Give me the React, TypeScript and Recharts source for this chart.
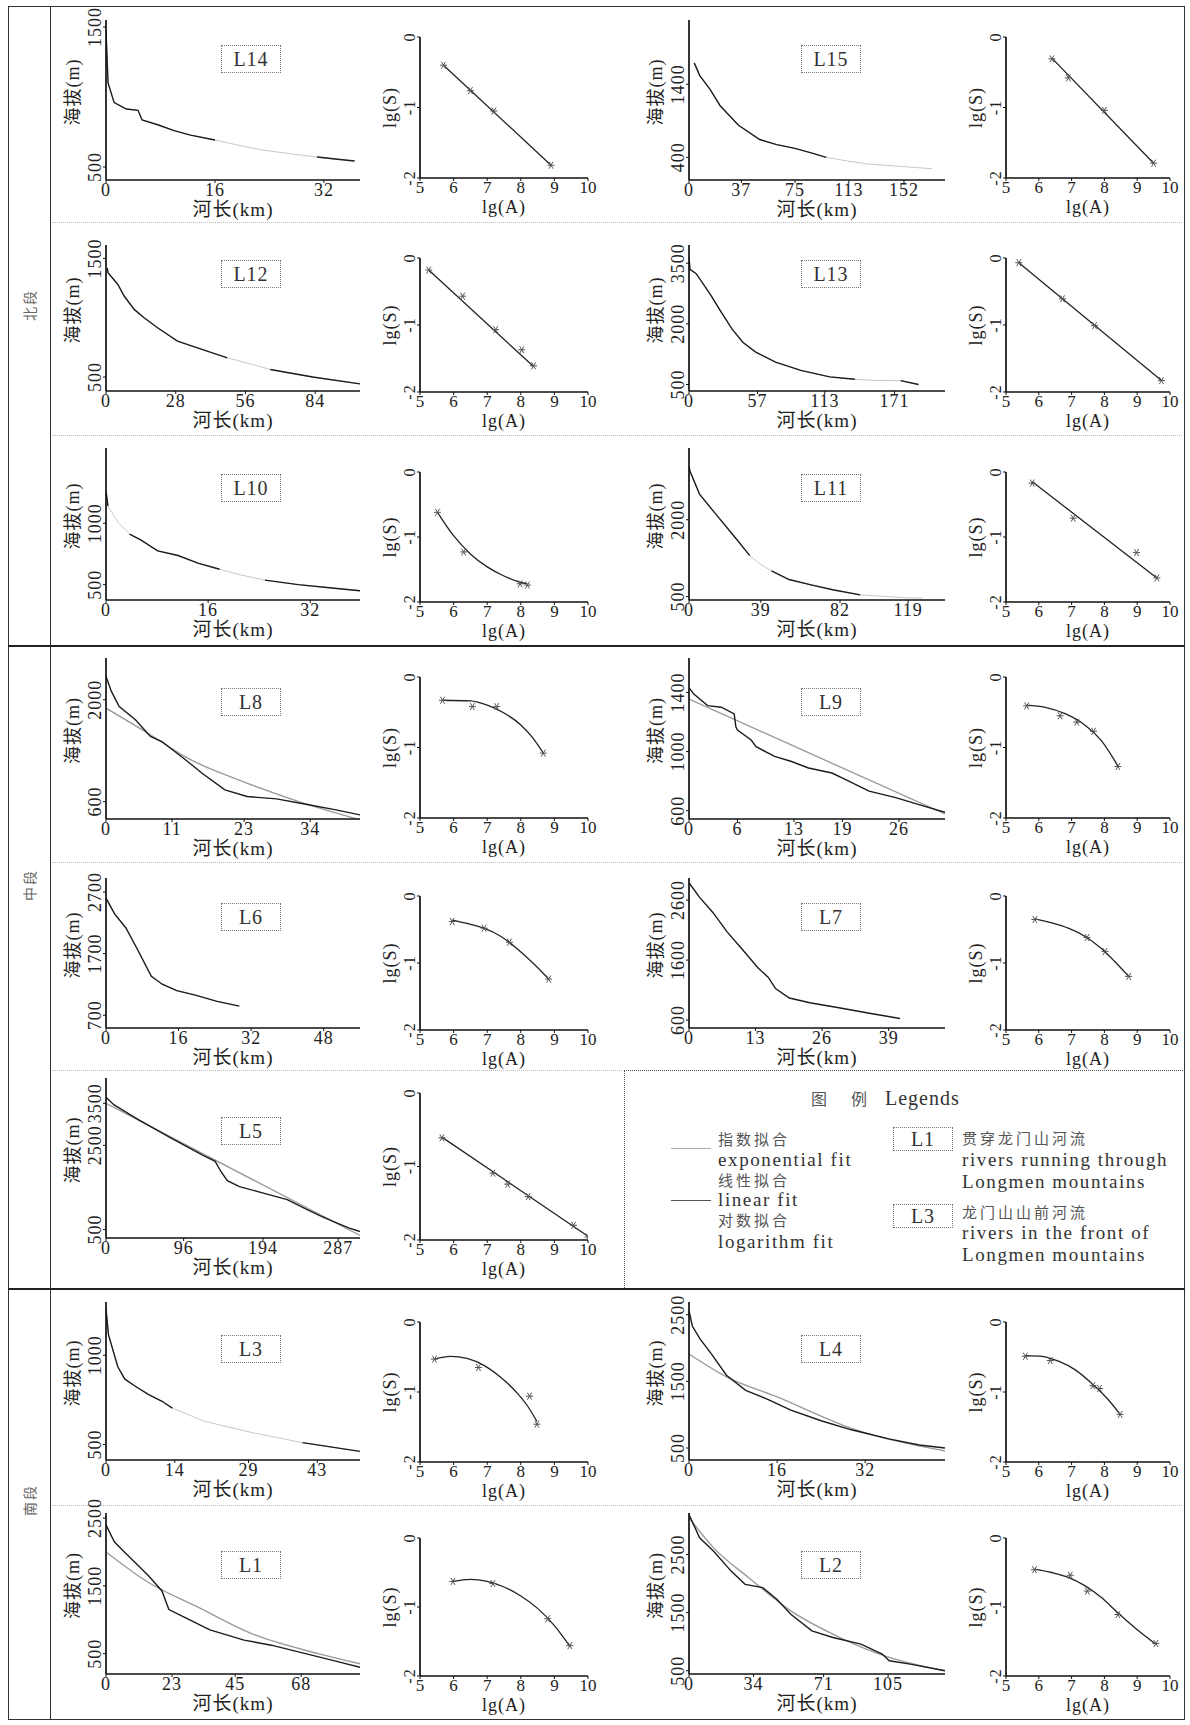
import React from 'react';
import { ComposedChart, Line, Scatter, XAxis, YAxis } from 'recharts';

type Pt = [number, number];

const SERIF = '"Liberation Serif", "DejaVu Serif", serif';
const MIX = '"Liberation Serif", "Noto Sans CJK SC", serif';
const CJK = '"Noto Sans CJK SC", sans-serif';

// river long profiles: [distance (km), elevation (m)]
const L14_profile: Pt[] = [[0, 1480], [0.3, 1100], [1.2, 960], [3, 914], [4.7, 905], [5.3, 836], [7.7, 800], [10, 760], [12.4, 728], [16, 693], [19, 660], [23, 621], [27, 595], [31, 571], [34, 555], [36.5, 543]];
const L15_profile: Pt[] = [[3.7, 1693], [7.5, 1522], [15, 1327], [22, 1107], [35, 839], [50, 644], [62, 575], [75, 522], [87, 458], [97, 400], [112, 350], [125, 312], [150, 275], [172, 244]];
const L12_profile: Pt[] = [[0.5, 1420], [0.8, 1380], [4.7, 1282], [7.3, 1183], [11.3, 1070], [15.3, 1000], [20.7, 915], [28.7, 803], [36.7, 746], [48.7, 662], [58, 610], [66, 563], [83, 500], [102, 442]];
const L13_profile: Pt[] = [[0, 3650], [0.8, 3350], [6, 3240], [18, 2715], [25.5, 2350], [36, 1865], [45, 1540], [55.5, 1300], [72, 1055], [93, 850], [117, 690], [138, 630], [155, 600], [176, 597], [191, 500]];
const L10_profile: Pt[] = [[0, 1265], [0.3, 1140], [2, 1000], [3.7, 912], [5.5, 862], [8.1, 775], [11.3, 737], [14.4, 675], [17.8, 625], [21, 580], [24.9, 537], [30.1, 500], [35, 475], [39.8, 450]];
const L11_profile: Pt[] = [[0, 3050], [0.5, 2950], [5.7, 2500], [14, 2133], [25.5, 1633], [33, 1300], [38, 1150], [44.8, 1000], [54.3, 833], [65.7, 733], [78, 633], [93, 533], [116, 480], [126.7, 467]];
const L8_profile: Pt[] = [[0, 2321], [0.9, 2115], [2.2, 1908], [4.9, 1725], [7.4, 1495], [9.3, 1426], [13.6, 1151], [16, 990], [19.8, 761], [23.5, 670], [28.4, 637], [33.3, 563], [38.3, 486], [42.3, 417]];
const L9_profile: Pt[] = [[0, 1433], [0.6, 1389], [2.3, 1311], [4, 1300], [5.6, 1255], [5.8, 1167], [6, 1145], [7.7, 1078], [8.3, 1033], [10.6, 967], [12.7, 933], [14.8, 889], [17.7, 855], [19.4, 811], [22.3, 733], [25.6, 689], [29, 633], [31.7, 589]];
const L6_profile: Pt[] = [[0, 2600], [1.9, 2345], [4.4, 2117], [6.8, 1787], [10, 1330], [12.4, 1203], [15.6, 1100], [19.7, 1025], [24.5, 924], [29.4, 848]];
const L7_profile: Pt[] = [[0, 2890], [2, 2653], [4.7, 2390], [7.4, 2074], [10.1, 1811], [13.5, 1468], [15.5, 1311], [16.9, 1126], [19.6, 968], [23.6, 889], [29, 810], [35.8, 705], [41.2, 626]];
const L5_profile: Pt[] = [[0, 3640], [10, 3460], [40, 3110], [80, 2680], [120, 2260], [135, 2120], [142, 1880], [150, 1660], [165, 1520], [190, 1390], [224, 1210], [250, 960], [267, 810], [285, 660], [300, 540], [314, 455]];
const L3_profile: Pt[] = [[0, 1260], [0.5, 1115], [2.4, 935], [3.8, 867], [5.8, 829], [8.6, 781], [11.4, 742], [13.5, 704], [20, 630], [30, 565], [40, 510], [51.7, 461]];
const L4_profile: Pt[] = [[0, 2560], [0.6, 2330], [2, 2136], [4.1, 1909], [6.8, 1591], [10.3, 1364], [14.4, 1227], [18.5, 1068], [24, 909], [29.5, 773], [36.3, 636], [41.8, 545], [46.5, 500]];
const L1_profile: Pt[] = [[0, 2400], [2.9, 2150], [6.4, 2000], [11.2, 1800], [14.8, 1650], [19.5, 1425], [21.9, 1150], [26.7, 1050], [36.2, 850], [48.1, 700], [57.6, 625], [69.5, 500], [79, 400], [88.5, 300]];
const L2_profile: Pt[] = [[0, 3186], [5.6, 2786], [13, 2557], [22.2, 2214], [29.6, 1986], [38.9, 1929], [46.3, 1729], [53.7, 1471], [64.8, 1186], [75.9, 1071], [90.7, 957], [101.9, 786], [105.6, 671], [116.7, 614], [135, 500]];

// profile fits (grey curves)
const L8_fit: Pt[] = [[0, 1885], [7.4, 1518], [13.6, 1197], [22.8, 876], [32.1, 600], [42.3, 350]];
const L9_fit: Pt[] = [[0, 1355], [31.7, 578]];
const L5_fit: Pt[] = [[0, 3500], [314, 360]];
const L4_fit: Pt[] = [[0, 1910], [6.8, 1568], [15.8, 1273], [29.5, 795], [46.5, 455]];
const L1_fit: Pt[] = [[0, 2000], [14.8, 1550], [31.4, 1200], [50.5, 800], [74, 500], [88.5, 350]];
const L2_fit: Pt[] = [[0, 3130], [13, 2614], [31.5, 2100], [53.7, 1529], [79.6, 1071], [105.6, 729], [135, 500]];

// slope-area points: [lg(A), lg(S)]
const L14_slope: Pt[] = [[5.7, -0.4], [6.5, -0.76], [7.2, -1.05], [8.9, -1.82]];
const L15_slope: Pt[] = [[6.4, -0.31], [6.9, -0.58], [8.0, -1.04], [9.5, -1.79]];
const L12_slope: Pt[] = [[5.26, -0.18], [6.27, -0.57], [7.25, -1.07], [8.03, -1.37], [8.38, -1.61]];
const L13_slope: Pt[] = [[5.39, -0.07], [6.72, -0.61], [7.7, -1.01], [9.74, -1.83]];
const L10_slope: Pt[] = [[5.52, -0.62], [6.3, -1.23], [7.98, -1.72], [8.2, -1.74]];
const L11_slope: Pt[] = [[5.8, -0.17], [7.05, -0.71], [8.98, -1.24], [9.6, -1.63]];
const L8_slope: Pt[] = [[5.67, -0.33], [6.56, -0.42], [7.28, -0.42], [8.67, -1.08]];
const L9_slope: Pt[] = [[5.63, -0.41], [6.65, -0.55], [7.16, -0.64], [7.67, -0.77], [8.41, -1.27]];
const L6_slope: Pt[] = [[5.96, -0.38], [6.91, -0.48], [7.66, -0.69], [8.83, -1.24]];
const L7_slope: Pt[] = [[5.88, -0.35], [7.47, -0.62], [8.02, -0.83], [8.74, -1.2]];
const L5_slope: Pt[] = [[5.65, -0.61], [7.17, -1.09], [7.61, -1.24], [8.22, -1.41], [9.57, -1.8], [10.0, -1.96]];
const L3_slope: Pt[] = [[5.43, -0.53], [6.74, -0.65], [8.26, -1.06], [8.48, -1.46]];
const L4_slope: Pt[] = [[5.59, -0.49], [6.35, -0.55], [7.65, -0.91], [7.85, -0.95], [8.48, -1.32]];
const L1_slope: Pt[] = [[5.98, -0.63], [7.17, -0.66], [8.8, -1.17], [9.46, -1.56]];
const L2_slope: Pt[] = [[5.87, -0.46], [6.96, -0.54], [7.48, -0.77], [8.41, -1.11], [9.57, -1.53]];

// slope-area fits
const L14_sfit: Pt[] = [[5.7, -0.4], [8.9, -1.82]];
const L15_sfit: Pt[] = [[6.4, -0.3], [9.5, -1.79]];
const L12_sfit: Pt[] = [[5.26, -0.18], [8.38, -1.62]];
const L13_sfit: Pt[] = [[5.39, -0.07], [9.74, -1.83]];
const L10_sfit: Pt[] = [[5.52, -0.62], [6, -0.98], [6.5, -1.26], [7, -1.46], [7.5, -1.6], [8, -1.7], [8.2, -1.72]];
const L11_sfit: Pt[] = [[5.8, -0.15], [9.6, -1.63]];
const L8_sfit: Pt[] = [[5.67, -0.33], [6.5, -0.34], [7, -0.4], [7.5, -0.51], [8, -0.68], [8.35, -0.86], [8.67, -1.08]];
const L9_sfit: Pt[] = [[5.63, -0.4], [6.2, -0.43], [6.8, -0.52], [7.4, -0.68], [7.9, -0.9], [8.41, -1.26]];
const L6_sfit: Pt[] = [[5.96, -0.36], [6.4, -0.41], [6.9, -0.48], [7.4, -0.6], [7.9, -0.79], [8.4, -1.02], [8.83, -1.24]];
const L7_sfit: Pt[] = [[5.88, -0.34], [6.4, -0.4], [6.9, -0.48], [7.4, -0.6], [7.9, -0.78], [8.3, -0.97], [8.74, -1.2]];
const L5_sfit: Pt[] = [[5.65, -0.6], [10.1, -1.98]];
const L3_sfit: Pt[] = [[5.43, -0.53], [5.9, -0.49], [6.4, -0.52], [6.9, -0.62], [7.4, -0.79], [7.9, -1.02], [8.2, -1.2], [8.48, -1.42]];
const L4_sfit: Pt[] = [[5.59, -0.48], [6.1, -0.49], [6.6, -0.56], [7.1, -0.68], [7.6, -0.87], [8.1, -1.1], [8.48, -1.32]];
const L1_sfit: Pt[] = [[5.98, -0.63], [6.5, -0.6], [7, -0.63], [7.5, -0.71], [8, -0.84], [8.5, -1.02], [9, -1.27], [9.46, -1.57]];
const L2_sfit: Pt[] = [[5.87, -0.45], [6.4, -0.5], [6.9, -0.57], [7.4, -0.69], [7.9, -0.86], [8.4, -1.08], [8.9, -1.29], [9.57, -1.54]];

const slopeXTicks = [5, 6, 7, 8, 9, 10];
const slopeYTicks = [0, -1, -2];

interface River {
  id: string;
  profile: Pt[];
  fit?: Pt[];
  faded: Pt[];
  xMax: number;
  xTicks: number[];
  yDomain: Pt;
  yTicks: number[];
  slope: Pt[];
  slopeFit: Pt[];
}

const RIVERS: River[] = [
  { id: 'L14', profile: L14_profile, faded: [[16.5, 29]], xMax: 37.3, xTicks: [0, 16, 32], yDomain: [407, 1550], yTicks: [500, 1500], slope: L14_slope, slopeFit: L14_sfit },
  { id: 'L15', profile: L15_profile, faded: [[36, 48], [98, 180]], xMax: 181, xTicks: [0, 37, 75, 113, 152], yDomain: [90, 2280], yTicks: [400, 1400], slope: L15_slope, slopeFit: L15_sfit },
  { id: 'L12', profile: L12_profile, faded: [[29, 36], [49, 65]], xMax: 102, xTicks: [0, 28, 56, 84], yDomain: [382, 1613], yTicks: [500, 1500], slope: L12_slope, slopeFit: L12_sfit },
  { id: 'L13', profile: L13_profile, faded: [[37, 44], [140, 170]], xMax: 213, xTicks: [0, 57, 113, 171], yDomain: [340, 3950], yTicks: [500, 2000, 3500], slope: L13_slope, slopeFit: L13_sfit },
  { id: 'L10', profile: L10_profile, faded: [[0.4, 3.5], [18.5, 24]], xMax: 39.8, xTicks: [0, 16, 32], yDomain: [375, 1612], yTicks: [500, 1000], slope: L10_slope, slopeFit: L10_sfit },
  { id: 'L11', profile: L11_profile, faded: [[0.6, 5.5], [34, 44], [95, 130]], xMax: 139, xTicks: [0, 39, 82, 119], yDomain: [433, 3400], yTicks: [500, 2000], slope: L11_slope, slopeFit: L11_sfit },
  { id: 'L8', profile: L8_profile, fit: L8_fit, faded: [], xMax: 42.3, xTicks: [0, 11, 23, 34], yDomain: [361, 2574], yTicks: [600, 2000], slope: L8_slope, slopeFit: L8_sfit },
  { id: 'L9', profile: L9_profile, fit: L9_fit, faded: [], xMax: 31.7, xTicks: [0, 6, 13, 19, 26], yDomain: [544, 1633], yTicks: [600, 1000, 1400], slope: L9_slope, slopeFit: L9_sfit },
  { id: 'L6', profile: L6_profile, faded: [[6.9, 9.9]], xMax: 56, xTicks: [0, 16, 32, 48], yDomain: [492, 2928], yTicks: [700, 1700, 2700], slope: L6_slope, slopeFit: L6_sfit },
  { id: 'L7', profile: L7_profile, faded: [], xMax: 50, xTicks: [0, 13, 26, 39], yDomain: [468, 2968], yTicks: [600, 1600, 2600], slope: L7_slope, slopeFit: L7_sfit },
  { id: 'L5', profile: L5_profile, fit: L5_fit, faded: [], xMax: 314, xTicks: [0, 96, 194, 287], yDomain: [300, 4100], yTicks: [500, 2500, 3500], slope: L5_slope, slopeFit: L5_sfit },
  { id: 'L3', profile: L3_profile, faded: [[0.6, 2.3], [14, 40]], xMax: 51.7, xTicks: [0, 14, 29, 43], yDomain: [413, 1298], yTicks: [500, 1000], slope: L3_slope, slopeFit: L3_sfit },
  { id: 'L4', profile: L4_profile, fit: L4_fit, faded: [], xMax: 46.5, xTicks: [0, 16, 32], yDomain: [320, 2690], yTicks: [500, 1500, 2500], slope: L4_slope, slopeFit: L4_sfit },
  { id: 'L1', profile: L1_profile, fit: L1_fit, faded: [], xMax: 88.5, xTicks: [0, 23, 45, 68], yDomain: [200, 2575], yTicks: [500, 1500, 2500], slope: L1_slope, slopeFit: L1_sfit },
  { id: 'L2', profile: L2_profile, fit: L2_fit, faded: [], xMax: 135, xTicks: [0, 34, 71, 105], yDomain: [443, 3214], yTicks: [500, 1500, 2500], slope: L2_slope, slopeFit: L2_sfit },
];

// page layout (pixels)
const ROWS = [
  { p: [20, 180], s: [37, 178], box: 45 },
  { p: [245, 391], s: [258, 392], box: 260 },
  { p: [448, 600], s: [472, 602], box: 474 },
  { p: [658, 819], s: [677, 818], box: 688 },
  { p: [878, 1028], s: [896, 1030], box: 903 },
  { p: [1078, 1238], s: [1093, 1240], box: 1117 },
  { p: [1302, 1460], s: [1322, 1462], box: 1335 },
  { p: [1513, 1674], s: [1538, 1676], box: 1551 },
];
const SIDES = {
  left: { p: [106, 360], s: [420, 588], box: 221 },
  right: { p: [689, 945], s: [1006, 1170], box: 801 },
};
const CELLS: { id: string; row: number; side: 'left' | 'right' }[] = [
  { id: 'L14', row: 0, side: 'left' }, { id: 'L15', row: 0, side: 'right' },
  { id: 'L12', row: 1, side: 'left' }, { id: 'L13', row: 1, side: 'right' },
  { id: 'L10', row: 2, side: 'left' }, { id: 'L11', row: 2, side: 'right' },
  { id: 'L8', row: 3, side: 'left' }, { id: 'L9', row: 3, side: 'right' },
  { id: 'L6', row: 4, side: 'left' }, { id: 'L7', row: 4, side: 'right' },
  { id: 'L5', row: 5, side: 'left' },
  { id: 'L3', row: 6, side: 'left' }, { id: 'L4', row: 6, side: 'right' },
  { id: 'L1', row: 7, side: 'left' }, { id: 'L2', row: 7, side: 'right' },
];

const toObj = (pts: Pt[]) => pts.map(([x, y]) => ({ x, y }));

const vText = (text: string, cx: number, cy: number, size: number, family: string) => (
  <text x={cx} y={cy} transform={`rotate(-90 ${cx} ${cy})`} textAnchor="middle" fontSize={size} fontFamily={family} fill="#222" letterSpacing={1}>
    {text}
  </text>
);

const VTick = (props: any) => {
  const { x, y, payload, size } = props;
  return vText(String(payload.value), x, y, size, SERIF);
};

const Star = (props: any) => {
  const { cx, cy } = props;
  const s = 3.5;
  return (
    <g stroke="#555" strokeWidth={1}>
      <line x1={cx - s} y1={cy} x2={cx + s} y2={cy} />
      <line x1={cx - s * 0.6} y1={cy - s} x2={cx + s * 0.6} y2={cy + s} />
      <line x1={cx + s * 0.6} y1={cy - s} x2={cx - s * 0.6} y2={cy + s} />
    </g>
  );
};

const axisStyle = { stroke: '#111', strokeWidth: 1.7 };
const MT = 24;

const Profile: React.FC<{ r: River; x0: number; x1: number; y0: number; y1: number }> = ({ r, x0, x1, y0, y1 }) => {
  const YW = 52, XH = 42, MR = 6;
  const ph = y1 - y0;
  const dark = r.profile.map(([x, y]) => ({ x, y: r.faded.some(([a, b]) => x > a && x < b) ? null : y }));
  return (
    <div style={{ position: 'absolute', left: x0 - YW, top: y0 - MT }}>
      <ComposedChart width={x1 - x0 + YW + MR} height={ph + MT + XH} margin={{ top: MT, right: MR, left: 0, bottom: 0 }}>
        <XAxis
          type="number" dataKey="x" domain={[0, r.xMax]} ticks={r.xTicks} allowDataOverflow
          height={XH} axisLine={axisStyle} tickLine={{ stroke: '#111' }} tickSize={3} tickMargin={0}
          tick={{ fontSize: 18, fontFamily: SERIF, fill: '#222', letterSpacing: 1 }} interval={0}
          label={{ content: () => <text x={YW + (x1 - x0) / 2} y={MT + ph + 36} textAnchor="middle" fontSize={19} fontFamily={MIX} fill="#222" letterSpacing={1}>河长(km)</text> }}
        />
        <YAxis
          type="number" dataKey="y" domain={r.yDomain} ticks={r.yTicks} allowDataOverflow
          width={YW} axisLine={axisStyle} tickLine={{ stroke: '#111' }} tickSize={3} tickMargin={2}
          tick={(p: any) => <VTick {...p} size={18} />} interval={0}
          label={{ content: () => vText('海拔(m)', YW - 27, MT + ph / 2 - 8, 18, MIX) }}
        />
        {r.fit && <Line data={toObj(r.fit)} dataKey="y" type="monotone" stroke="#9a9a9a" strokeWidth={1.4} dot={false} isAnimationActive={false} />}
        {r.faded.length > 0 && <Line data={toObj(r.profile)} dataKey="y" type="linear" stroke="#c8c8c8" strokeWidth={1} dot={false} isAnimationActive={false} />}
        <Line data={dark} dataKey="y" type="linear" stroke="#1c1c1c" strokeWidth={1.4} dot={false} connectNulls={false} isAnimationActive={false} />
      </ComposedChart>
    </div>
  );
};

const SlopeChart: React.FC<{ r: River; x0: number; x1: number; y0: number; y1: number }> = ({ r, x0, x1, y0, y1 }) => {
  const YW = 42, XH = 42, MR = 10;
  const ph = y1 - y0;
  return (
    <div style={{ position: 'absolute', left: x0 - YW, top: y0 - MT }}>
      <ComposedChart width={x1 - x0 + YW + MR} height={ph + MT + XH} margin={{ top: MT, right: MR, left: 0, bottom: 0 }}>
        <XAxis
          type="number" dataKey="x" domain={[5, 10]} ticks={slopeXTicks} allowDataOverflow
          height={XH} axisLine={axisStyle} tickLine={{ stroke: '#111' }} tickSize={3} tickMargin={0}
          tick={{ fontSize: 17, fontFamily: SERIF, fill: '#222' }} interval={0}
          label={{ content: () => <text x={YW + (x1 - x0) / 2} y={MT + ph + 35} textAnchor="middle" fontSize={18} fontFamily={SERIF} fill="#222" letterSpacing={1}>lg(A)</text> }}
        />
        <YAxis
          type="number" dataKey="y" domain={[-2, 0]} ticks={slopeYTicks} allowDataOverflow
          width={YW} axisLine={axisStyle} tickLine={{ stroke: '#111' }} tickSize={3} tickMargin={2}
          tick={(p: any) => <VTick {...p} size={16} />} interval={0}
          label={{ content: () => vText('lg(S)', YW - 24, MT + ph / 2, 18, SERIF) }}
        />
        <Line data={toObj(r.slopeFit)} dataKey="y" type="monotone" stroke="#222" strokeWidth={1.3} dot={false} isAnimationActive={false} />
        <Scatter data={toObj(r.slope)} dataKey="y" shape={<Star />} isAnimationActive={false} />
      </ComposedChart>
    </div>
  );
};

const IdBox: React.FC<{ text: string; left: number; top: number; h?: number }> = ({ text, left, top, h = 26 }) => (
  <div style={{
    position: 'absolute', left, top, width: 58, height: h, border: '1.5px dotted #777',
    fontFamily: SERIF, fontSize: 20, lineHeight: `${h}px`, textAlign: 'center', color: '#333', letterSpacing: 1,
  }}>{text}</div>
);

const hLine = (top: number, left: number, width: number, style: string, key: string) => (
  <div key={key} style={{ position: 'absolute', top, left, width, height: 0, borderTop: style }} />
);

const SectionLabel: React.FC<{ text: string; cy: number }> = ({ text, cy }) => (
  <div style={{
    position: 'absolute', left: -1, top: cy - 10, width: 60, height: 20, textAlign: 'center',
    transform: 'rotate(-90deg)', fontFamily: CJK, fontSize: 14, color: '#666', lineHeight: '20px', letterSpacing: 2,
  }}>{text}</div>
);

const T: React.FC<{ x: number; y: number; cjk?: boolean; children: React.ReactNode }> = ({ x, y, cjk, children }) => (
  <div style={{
    position: 'absolute', left: x, top: y - 12, whiteSpace: 'nowrap', lineHeight: '24px',
    fontFamily: cjk ? CJK : SERIF, fontSize: cjk ? 15 : 19,
    letterSpacing: cjk ? 3 : 1.6, color: cjk ? '#555' : '#333',
  }}>{children}</div>
);

export default function App() {
  const byId = Object.fromEntries(RIVERS.map((r) => [r.id, r]));
  return (
    <div style={{ position: 'absolute', left: 0, top: 0, width: 1190, height: 1725, background: '#fff' }}>
      {/* frame */}
      <div style={{ position: 'absolute', left: 8, top: 6, width: 1177, height: 1714, border: '1.5px solid #333', boxSizing: 'border-box' }} />
      <div style={{ position: 'absolute', left: 50, top: 6, width: 0, height: 1714, borderLeft: '1.5px solid #333' }} />
      {hLine(645, 8, 1177, '2px solid #222', 's1')}
      {hLine(1288, 8, 1177, '2px solid #222', 's2')}
      {hLine(222, 52, 1130, '1px dotted #bbb', 'd1')}
      {hLine(435, 52, 1130, '1px dotted #bbb', 'd2')}
      {hLine(862, 52, 1130, '1px dotted #bbb', 'd3')}
      {hLine(1070, 52, 570, '1px dotted #bbb', 'd4')}
      {hLine(1505, 52, 1130, '1px dotted #bbb', 'd5')}
      <SectionLabel text="北段" cy={305} />
      <SectionLabel text="中段" cy={885} />
      <SectionLabel text="南段" cy={1500} />

      {CELLS.map((c) => {
        const r = byId[c.id];
        const row = ROWS[c.row];
        const side = SIDES[c.side];
        return (
          <React.Fragment key={c.id}>
            <Profile r={r} x0={side.p[0]} x1={side.p[1]} y0={row.p[0]} y1={row.p[1]} />
            <SlopeChart r={r} x0={side.s[0]} x1={side.s[1]} y0={row.s[0]} y1={row.s[1]} />
            <IdBox text={r.id} left={side.box} top={row.box} />
          </React.Fragment>
        );
      })}

      {/* legend */}
      <div style={{ position: 'absolute', left: 624, top: 1070, width: 561, height: 218, borderTop: '1.5px dotted #555', borderLeft: '1.5px dotted #555', boxSizing: 'border-box' }} />
      <div style={{ position: 'absolute', left: 811, top: 1086, whiteSpace: 'nowrap', lineHeight: '24px', color: '#333' }}>
        <span style={{ fontFamily: CJK, fontSize: 16, color: '#555', letterSpacing: 4 }}>图　例</span>
        <span style={{ fontFamily: SERIF, fontSize: 20, marginLeft: 14, letterSpacing: 1 }}>Legends</span>
      </div>
      <div style={{ position: 'absolute', left: 671, top: 1148, width: 40, borderTop: '1.2px solid #aaa' }} />
      <div style={{ position: 'absolute', left: 671, top: 1200, width: 40, borderTop: '1.5px solid #555' }} />
      <T x={718} y={1139} cjk>指数拟合</T>
      <T x={718} y={1160}>exponential fit</T>
      <T x={718} y={1180} cjk>线性拟合</T>
      <T x={718} y={1200}>linear fit</T>
      <T x={718} y={1220} cjk>对数拟合</T>
      <T x={718} y={1242}>logarithm fit</T>
      <IdBox text="L1" left={893} top={1127} h={22} />
      <IdBox text="L3" left={893} top={1204} h={22} />
      <T x={962} y={1138} cjk>贯穿龙门山河流</T>
      <T x={962} y={1160}>rivers running through</T>
      <T x={962} y={1182}>Longmen mountains</T>
      <T x={962} y={1212} cjk>龙门山山前河流</T>
      <T x={962} y={1233}>rivers in the front of</T>
      <T x={962} y={1255}>Longmen mountains</T>
    </div>
  );
}
